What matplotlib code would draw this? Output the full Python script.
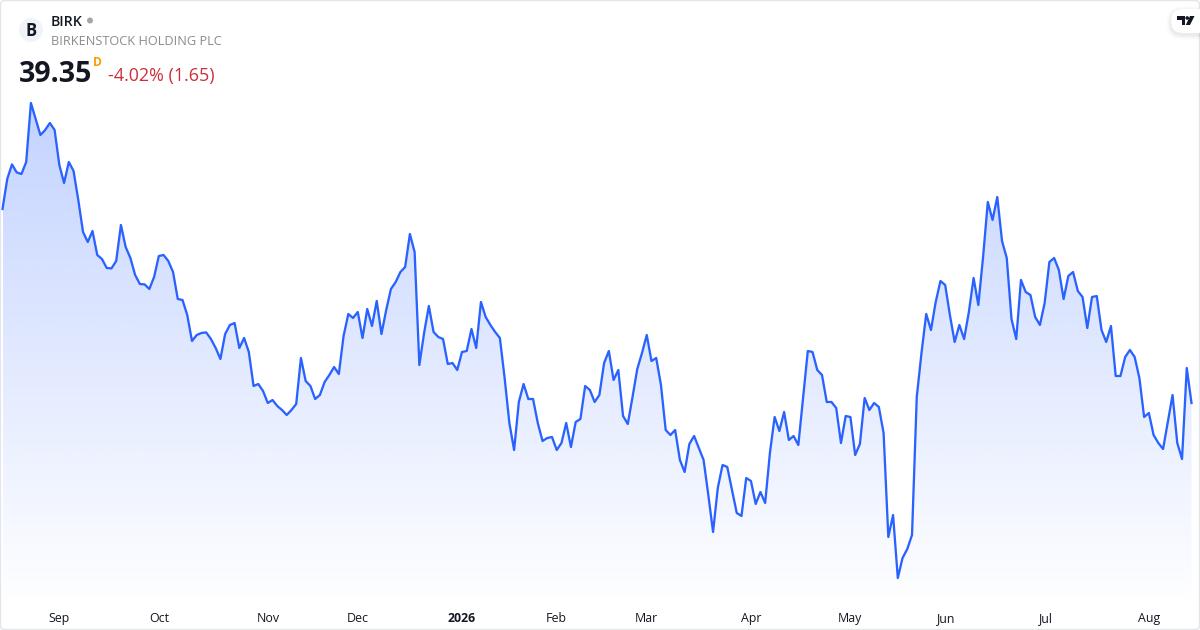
import numpy as np
import matplotlib
matplotlib.use("Agg")
import matplotlib.pyplot as plt
from matplotlib.patches import Circle, FancyBboxPatch, Polygon

plt.rcParams['font.family'] = ['Open Sans', 'DejaVu Sans']

close = [49.05,50.55,51.28,50.88,50.8,51.4,54.35,53.55,52.75,53.0,53.35,53.0,51.25,50.35,51.4,50.95,49.5,47.9,47.4,47.95,
46.75,46.55,46.1,46.08,46.45,48.25,47.15,46.6,45.75,45.3,45.28,45.05,45.65,46.7,46.75,46.45,45.9,44.55,44.5,43.75,
42.45,42.75,42.85,42.88,42.55,42.1,41.55,42.8,43.25,43.35,42.1,42.6,41.9,40.2,40.3,39.95,39.35,39.5,39.2,39.0,
38.75,39.0,39.3,41.6,40.45,40.2,39.55,39.75,40.4,40.75,41.15,40.8,42.7,43.8,43.6,43.9,42.6,44.05,43.2,44.45,
42.8,44.0,45.05,45.4,45.9,46.15,47.8,46.9,41.25,42.85,44.2,42.9,42.65,42.55,41.3,41.35,41.0,41.9,41.95,43.05,
42.1,44.4,43.65,43.25,42.9,42.6,40.6,38.35,37.0,39.4,40.3,39.55,39.55,38.35,37.45,37.6,37.65,37.0,37.35,38.35,
37.15,38.4,38.55,40.2,40.0,39.4,39.75,41.35,41.95,40.5,41.0,38.7,38.3,39.65,41.05,41.85,42.75,41.45,41.6,40.25,
38.0,37.75,38.0,36.5,35.9,37.3,37.7,37.1,36.5,34.75,32.9,35.1,36.25,36.15,35.0,33.85,33.7,35.6,35.45,34.3,
34.9,34.35,36.85,38.65,37.95,38.9,37.5,37.7,37.25,39.6,41.95,41.9,41.0,40.75,39.4,39.4,39.1,37.35,38.7,38.65,
36.75,37.3,39.6,39.0,39.35,39.15,37.85,32.65,33.75,30.6,31.6,32.05,32.75,39.65,41.85,43.8,43.0,44.4,45.45,45.25,
43.75,42.4,43.25,42.55,43.9,45.6,44.25,46.65,49.4,48.5,49.65,47.45,46.6,43.55,42.55,45.5,44.9,44.75,43.65,43.25,
44.35,46.4,46.6,46.0,44.55,45.7,45.9,44.95,44.65,43.1,44.65,44.7,43.0,42.4,43.2,40.7,40.7,41.65,42.0,41.65,
40.6,38.65,38.85,37.75,37.35,37.05,38.4,39.75,37.35,36.55,41.1,39.35]

tick_index = [12,33,56,75,97,117,136,158,179,199,220,242]
tick_labels = ['Sep','Oct','Nov','Dec','2026','Feb','Mar','Apr','May','Jun','Jul','Aug']

symbol = 'BIRK'
company = 'BIRKENSTOCK HOLDING PLC'
last_price = '39.35'
change_text = '-4.02% (1.65)'
LINE = '#2962ff'

fig = plt.figure(figsize=(12, 6.3), dpi=100, facecolor='white')
ax = fig.add_axes([0, 30/630, 1, 600/630])
n = len(close)
x = np.arange(n)
step = (1191.5 - 2.5) / (n - 1)
xlim = (-2.5 / step, (1200 - 2.5) / step)
ymax, ymin = 59.5, 29.5
ax.set_xlim(*xlim)
ax.set_ylim(ymin, ymax)

grad = np.zeros((256, 2, 4))
grad[..., :3] = matplotlib.colors.to_rgb(LINE)
frac = np.linspace(0, 1, 256)[:, None]
grad[..., 3] = np.clip(0.28 * (1 - (frac - 100/600) / (510/600)), 0, 0.28)
im = ax.imshow(grad, extent=[0, n - 1, ymin, ymax], origin='upper', aspect='auto', zorder=1)
verts = [(0, ymin)] + list(zip(x, close)) + [(n - 1, ymin)]
im.set_clip_path(Polygon(verts, closed=True, transform=ax.transData))
ax.plot(x, close, color=LINE, lw=1.65, solid_joinstyle='round', zorder=3)
ax.set_xlim(*xlim)
ax.set_ylim(ymin, ymax)

ax.set_yticks([])
ax.set_xticks(tick_index)
ax.set_xticklabels(tick_labels, fontsize=8.9, color='#131722')
ax.tick_params(axis='x', length=0, pad=8.5)
for lab, txt in zip(ax.get_xticklabels(), tick_labels):
    if txt == '2026':
        lab.set_fontweight('bold')
for s in ax.spines.values():
    s.set_visible(False)
ax.patch.set_alpha(0)

ov = fig.add_axes([0, 0, 1, 1], facecolor='none', zorder=5)
ov.set_xlim(0, 1200)
ov.set_ylim(630, 0)
ov.axis('off')

ov.add_patch(FancyBboxPatch((0.5, 0.5), 1199, 629, boxstyle='round,pad=0,rounding_size=4',
                            fc='none', ec='#e4e6ec', lw=1))
ov.add_patch(Circle((31, 30), 12, fc='#f0f3fa', ec='none'))
ov.text(31, 31, 'B', fontsize=12, fontweight='bold', color='#131722', ha='center', va='center')
ov.text(51, 22, symbol, fontsize=10.2, fontweight='semibold', color='#131722', va='center')
ov.add_patch(Circle((90, 20.5), 3, fc='#a6a6a6', ec='none'))
ov.text(51, 41.5, company, fontsize=9.2, color='#8c8c8c', va='center')
ov.text(19, 74, last_price, fontsize=20.5, fontweight='bold', color='#131722', va='center')
ov.text(93, 62.5, 'D', fontsize=8.6, fontweight='bold', color='#ff9800', va='center')
ov.text(108, 76.5, change_text, fontsize=12.9, color='#cc2f3c', va='center')

# TradingView badge
for off, al in ((5, 0.008), (4, 0.012), (3, 0.015), (2, 0.02), (1, 0.025)):
    ov.add_patch(FancyBboxPatch((1171 - off, 9 - off + 2), 60 + off, 24 + 2 * off,
                                boxstyle='round,pad=0,rounding_size=%d' % (12 + off),
                                fc='black', ec='none', alpha=al, clip_on=True))
ov.add_patch(FancyBboxPatch((1171, 9), 60, 24, boxstyle='round,pad=0,rounding_size=12',
                            fc='white', ec='none', clip_on=True))
ink = '#131722'
ov.add_patch(Polygon([(1177, 16), (1185, 16), (1185, 25), (1181.5, 25), (1181.5, 19.5), (1177, 19.5)], fc=ink, ec='none'))
ov.add_patch(Circle((1187.2, 18), 1.8, fc=ink, ec='none'))
ov.add_patch(Polygon([(1190, 16), (1194.5, 16), (1190, 25), (1185.8, 25)], fc=ink, ec='none'))

fig.savefig('out.png', dpi=100, facecolor='white')
